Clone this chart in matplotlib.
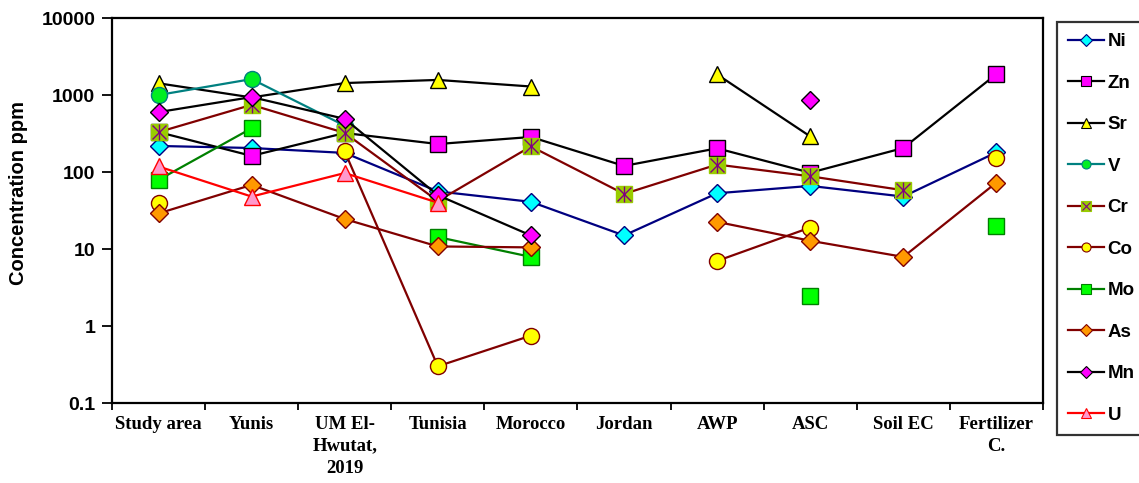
import numpy as np
import matplotlib.pyplot as plt
from matplotlib.lines import Line2D

nan = np.nan

sites = ["Study area", "Yunis", "UM El-\nHwutat,\n2019", "Tunisia", "Morocco",
         "Jordan", "AWP", "ASC", "Soil EC", "Fertilizer\nC."]

ni = [218, 205, 177, 56, 41, 15, 53, 66, 48, 180]
zn = [330, 162, 321, 231, 285, 120, 203, 98, 205, 1870]
sr = [1420, 930, 1430, 1570, 1290, nan, 1850, 290, nan, nan]
v = [1000, 1610, 400, nan, nan, nan, nan, nan, nan, nan]
cr = [330, 745, 322, 42, 215, 52, 125, 88, 58, nan]
co = [40, nan, 185, 0.3, 0.75, nan, 7, 19, nan, 152]
mo = [79, 370, nan, 14.3, 7.9, nan, nan, 2.45, nan, 20]
as_ = [29, 68, 24.5, 10.8, 10.5, nan, 22.5, 12.8, 7.9, 73]
mn = [600, 940, 490, 50, 15, nan, nan, 860, nan, nan]
u = [118, 48, 97, 40, nan, nan, nan, nan, nan, nan]

x = np.arange(len(sites))

plt.rcParams['font.family'] = ['Liberation Sans', 'DejaVu Sans']

fig = plt.figure(figsize=(11.39, 4.83), dpi=100)
ax = fig.add_axes([0.0983, 0.1656, 0.8174, 0.7971])

lw = 1.6
ms = 11

# (label, values, line colour, face colour, edge colour, marker, size)
series = [
    ("Ni", ni, "#000080", "#00FFFF", "#000080", "D", ms * 0.85),
    ("Zn", zn, "black", "#FF00FF", "black", "s", ms),
    ("Sr", sr, "black", "#FFFF00", "black", "^", ms * 1.05),
    ("V", v, "#008080", "#00EE22", "#008080", "o", ms * 1.05),
    ("Cr", cr, "#800000", "#99CC00", "#99CC00", "s", ms * 1.1),
    ("Co", co, "#800000", "#FFFF00", "#800000", "o", ms * 1.05),
    ("Mo", mo, "#008000", "#00FF00", "#008000", "s", ms),
    ("As", as_, "#800000", "#FF9900", "#800000", "D", ms * 0.85),
    ("Mn", mn, "black", "#FF00FF", "black", "D", ms * 0.85),
    ("U", u, "#FF0000", "#FF99CC", "#FF0000", "^", ms * 1.05),
]

handles = []
for name, vals, lc, fc, ec, mk, size in series:
    ax.plot(x, vals, color=lc, lw=lw, marker=mk, markersize=size,
            markerfacecolor=fc, markeredgecolor=ec, markeredgewidth=1.0)
    h = Line2D([], [], color=lc, lw=lw, marker=mk, markersize=6.5,
               markerfacecolor=fc, markeredgecolor=ec, markeredgewidth=0.8)
    if name == "Cr":
        # purple star drawn over the olive square
        ax.plot(x, vals, ls="none", marker="x", markersize=size * 0.8,
                markeredgecolor="#800080", markeredgewidth=1.0)
        ax.plot(x, vals, ls="none", marker="|", markersize=size * 0.95,
                markeredgecolor="#800080", markeredgewidth=1.0)
        hx = Line2D([], [], ls="none", marker="x", markersize=5.5,
                    markeredgecolor="#800080", markeredgewidth=0.8)
        h = (h, hx)
    handles.append(h)

ax.set_yscale("log")
ax.set_ylim(0.1, 10000)
ax.set_xlim(-0.5, len(sites) - 0.5)

ax.set_yticks([0.1, 1, 10, 100, 1000, 10000])
ax.set_yticklabels(["0.1", "1", "10", "100", "1000", "10000"])
ax.yaxis.set_minor_locator(plt.NullLocator())
ax.tick_params(axis="y", which="major", length=7, width=1.3,
               labelsize=14, pad=5)
for t in ax.get_yticklabels():
    t.set_fontweight("bold")

ax.set_xticks(x)
ax.set_xticklabels(sites, fontfamily="Liberation Serif", fontweight="bold",
                   fontsize=13.5, linespacing=1.4)
ax.set_xticks(np.arange(-0.5, len(sites)), minor=True)
ax.tick_params(axis="x", which="major", length=0, pad=9)
ax.tick_params(axis="x", which="minor", length=5, width=1.3)

ax.set_ylabel("Concentration ppm", fontsize=14.5, fontweight="bold")
ax.yaxis.set_label_coords(-0.090, 0.545)

for s in ax.spines.values():
    s.set_linewidth(1.6)
    s.set_color("black")

leg = fig.legend(handles, [s[0] for s in series],
                 loc="upper left", bbox_to_anchor=(1057 / 1139, 1 - 22 / 483),
                 frameon=True, fancybox=False, borderaxespad=0,
                 prop={"weight": "bold", "size": 13.5},
                 handlelength=1.9, handletextpad=0.2,
                 labelspacing=1.3, borderpad=0.6)
leg.get_frame().set_edgecolor("black")
leg.get_frame().set_linewidth(1.6)

fig.savefig("out.png", dpi=100)
